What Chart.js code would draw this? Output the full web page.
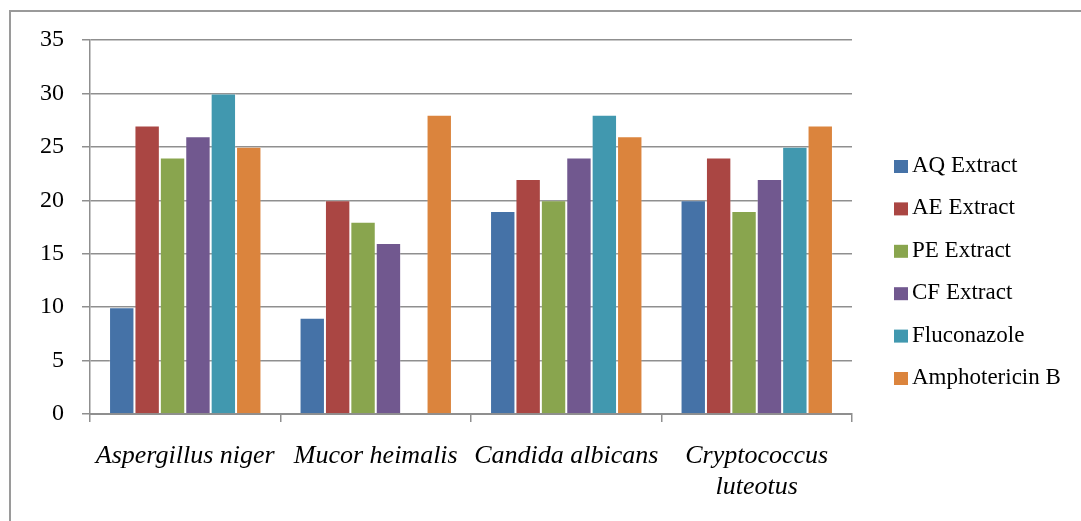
<!DOCTYPE html>
<html>
<head>
<meta charset="utf-8">
<script src="https://cdn.jsdelivr.net/npm/chart.js@4.4.1/dist/chart.umd.min.js"></script>
<style>
  html, body { margin: 0; padding: 0; background: #ffffff; }
  #wrap { position: relative; width: 1081px; height: 521px; }
</style>
</head>
<body>
<div id="wrap"><canvas id="chart" width="1081" height="521"></canvas></div>
<script>
// Organisms tested (last label wraps onto two lines)
const categories = ["Aspergillus niger", "Mucor heimalis", "Candida albicans", ["Cryptococcus", "luteotus"]];

// Zone of inhibition per treatment
const aqExtract      = [10,  9, 19, 20];
const aeExtract      = [27, 20, 22, 24];
const peExtract      = [24, 18, 20, 19];
const cfExtract      = [26, 16, 24, 22];
const fluconazole    = [30,  0, 28, 25];
const amphotericinB  = [25, 28, 26, 27];

const seriesNames  = ["AQ Extract", "AE Extract", "PE Extract", "CF Extract", "Fluconazole", "Amphotericin B"];
const seriesValues = [aqExtract, aeExtract, peExtract, cfExtract, fluconazole, amphotericinB];
const seriesColors = ["#4572A7", "#AA4643", "#89A54E", "#71588F", "#4198AF", "#DB843D"];

// Y axis ticks
const yTicks = [0, 5, 10, 15, 20, 25, 30, 35];

const SERIF = "'Liberation Serif', 'Times New Roman', serif";
const GRID = "#8f8f8f";

// Frame lines along the top and left of the figure
const framePlugin = {
  id: 'frame',
  beforeDraw(chart) {
    const ctx = chart.ctx;
    ctx.save();
    ctx.fillStyle = '#ffffff';
    ctx.fillRect(0, 0, chart.width, chart.height);
    ctx.strokeStyle = '#9a9a9a';
    ctx.lineWidth = 2;
    ctx.beginPath();
    ctx.moveTo(10, chart.height);
    ctx.lineTo(10, 11);
    ctx.lineTo(chart.width, 11);
    ctx.stroke();
    ctx.restore();
  }
};

// Vertical legend on the right, built from the datasets
const sideLegend = {
  id: 'sideLegend',
  afterDraw(chart) {
    const ctx = chart.ctx;
    const x0 = 894, y0 = 166, step = 42.4, box = 13;
    ctx.save();
    ctx.font = "23px " + SERIF;
    ctx.textBaseline = 'middle';
    ctx.textAlign = 'left';
    chart.data.datasets.forEach((ds, i) => {
      const y = y0 + i * step;
      ctx.fillStyle = ds.backgroundColor;
      ctx.fillRect(x0, y - 6, box + 1, box);
      ctx.fillStyle = '#000000';
      ctx.fillText(ds.label, x0 + 18, y);
    });
    ctx.restore();
  }
};

new Chart(document.getElementById('chart'), {
  type: 'bar',
  data: {
    labels: categories,
    datasets: seriesNames.map((name, i) => ({
      label: name,
      data: seriesValues[i],
      backgroundColor: seriesColors[i],
      borderColor: 'rgba(255,255,255,0.2)',
      borderWidth: 1,
      categoryPercentage: 0.8,
      barPercentage: 1.0
    }))
  },
  options: {
    responsive: false,
    animation: false,
    devicePixelRatio: 1,
    layout: { padding: { top: 40, right: 229, left: 0, bottom: 0 } },
    plugins: {
      legend: { display: false },
      tooltip: { enabled: false }
    },
    scales: {
      x: {
        grid: {
          display: true,
          drawOnChartArea: false,
          drawTicks: true,
          tickLength: 8,
          color: GRID,
          lineWidth: 1.5,
          offset: true
        },
        border: { display: true, color: GRID, width: 2 },
        ticks: {
          color: '#000000',
          font: { family: SERIF, size: 26, style: 'italic', lineHeight: 1.22 },
          padding: 18,
          maxRotation: 0,
          autoSkip: false
        },
        afterFit(scale) { scale.height = 107; }
      },
      y: {
        min: 0,
        max: 35,
        afterBuildTicks(scale) { scale.ticks = yTicks.map(v => ({ value: v })); },
        grid: {
          color: GRID,
          lineWidth: 1.5,
          tickLength: 8,
          drawTicks: true
        },
        border: { display: true, color: GRID, width: 1.5 },
        ticks: {
          color: '#000000',
          font: { family: SERIF, size: 24 },
          padding: 18
        },
        afterFit(scale) { scale.width = 90; }
      }
    }
  },
  plugins: [framePlugin, sideLegend]
});
</script>
</body>
</html>
